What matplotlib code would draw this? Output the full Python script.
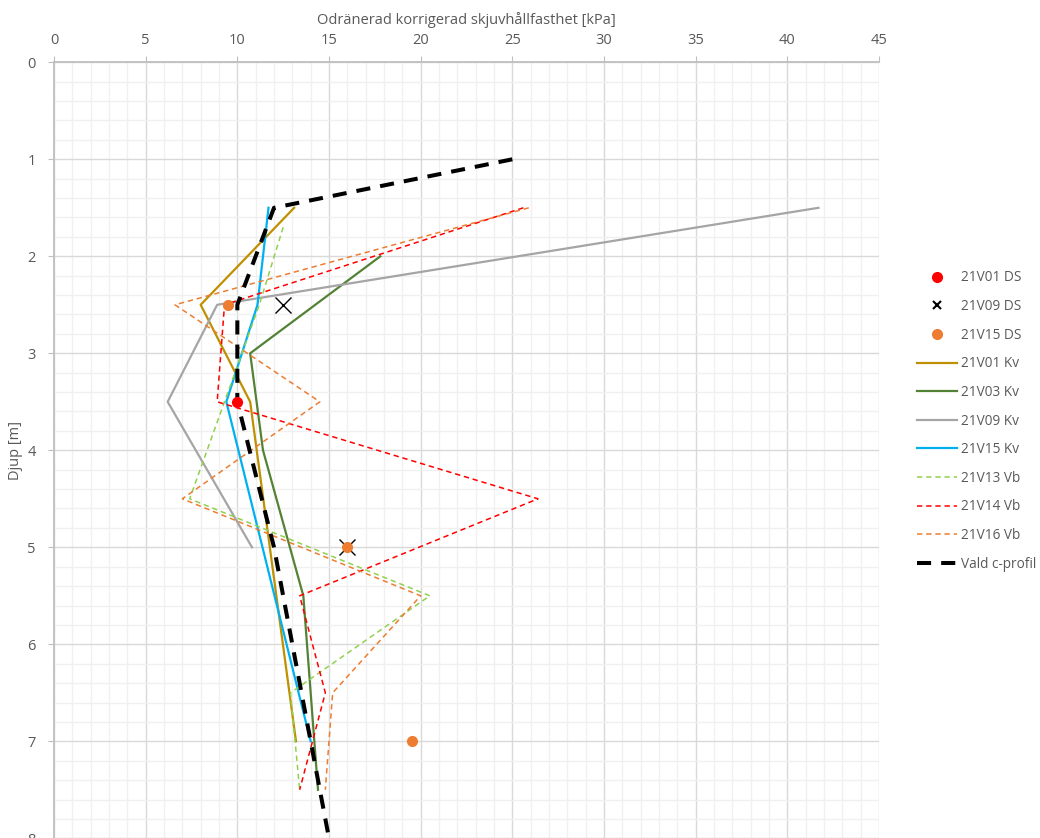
import numpy as np
import matplotlib
matplotlib.use("Agg")
import matplotlib.pyplot as plt
from matplotlib.ticker import MultipleLocator

plt.rcParams['font.family'] = ['Open Sans', 'DejaVu Sans']

# --- Punktdata (skjuvhållfasthet [kPa], djup [m]) ---
v01_ds_c = [10.0]
v01_ds_z = [3.5]
v09_ds_c = [12.5, 16.0]
v09_ds_z = [2.5, 5.0]
v15_ds_c = [9.5, 16.0, 19.5]
v15_ds_z = [2.5, 5.0, 7.0]

# --- Kv-profiler ---
v01_kv_c = [13.1, 8.0, 10.7, 13.2]
v01_kv_z = [1.5, 2.5, 3.5, 7.0]
v03_kv_c = [17.8, 10.7, 11.4, 13.6, 14.4]
v03_kv_z = [2.0, 3.0, 4.0, 5.5, 7.5]
v09_kv_c = [41.7, 8.9, 6.2, 10.8]
v09_kv_z = [1.5, 2.5, 3.5, 5.0]
v15_kv_c = [11.7, 11.4, 11.1, 9.4, 14.0]
v15_kv_z = [1.5, 2.0, 2.5, 3.5, 7.0]

# --- Vb-profiler ---
v13_vb_c = [12.5, 11.2, 7.4, 20.5, 12.9, 13.4]
v13_vb_z = [1.7, 2.5, 4.5, 5.5, 6.5, 7.5]
v14_vb_c = [25.6, 9.3, 8.9, 26.4, 13.4, 14.8, 13.4]
v14_vb_z = [1.5, 2.5, 3.5, 4.5, 5.5, 6.5, 7.5]
v16_vb_c = [25.9, 6.6, 14.5, 7.0, 20.0, 15.2, 14.8]
v16_vb_z = [1.5, 2.5, 3.5, 4.5, 5.5, 6.5, 7.5]

# --- Vald c-profil ---
vald_c = [25.0, 12.0, 10.0, 10.0, 12.0, 15.0]
vald_z = [1.0, 1.5, 2.5, 3.5, 5.0, 8.0]

fig = plt.figure(figsize=(10.4, 8.38), dpi=100)
ax = fig.add_axes([54/1040, -0.3/838, 825/1040, 776/838])

vb_dash = (0, (3.5, 2.5))
ax.plot(v01_kv_c, v01_kv_z, color='#bf9000', lw=1.6, label='21V01 Kv', zorder=3)
ax.plot(v03_kv_c, v03_kv_z, color='#548235', lw=1.6, label='21V03 Kv', zorder=3)
ax.plot(v09_kv_c, v09_kv_z, color='#a5a5a5', lw=1.6, label='21V09 Kv', zorder=3)
ax.plot(v15_kv_c, v15_kv_z, color='#00b0f0', lw=1.6, label='21V15 Kv', zorder=3)
ax.plot(v13_vb_c, v13_vb_z, color='#92d050', lw=1.1, ls=vb_dash, label='21V13 Vb', zorder=3)
ax.plot(v14_vb_c, v14_vb_z, color='#ff0000', lw=1.1, ls=vb_dash, label='21V14 Vb', zorder=3)
ax.plot(v16_vb_c, v16_vb_z, color='#ed7d31', lw=1.1, ls=vb_dash, label='21V16 Vb', zorder=3)
ax.plot(vald_c, vald_z, color='black', lw=2.9, ls=(0, (3.5, 2.5)), label='Vald c-profil', zorder=4)

ax.plot(v01_ds_c, v01_ds_z, 'o', color='#ff0000', ms=7, ls='none', label='21V01 DS', zorder=5)
ax.plot(v09_ds_c, v09_ds_z, 'x', color='black', ms=11, mew=1.0, ls='none', label='21V09 DS', zorder=5)
ax.plot(v15_ds_c, v15_ds_z, 'o', color='#ed7d31', ms=7, ls='none', label='21V15 DS', zorder=6)

ax.set_xlim(0, 45)
ax.set_ylim(8, 0)
ax.xaxis.set_major_locator(MultipleLocator(5))
ax.xaxis.set_minor_locator(MultipleLocator(1))
ax.yaxis.set_major_locator(MultipleLocator(1))
ax.yaxis.set_minor_locator(MultipleLocator(0.2))
ax.grid(which='major', color='#d9d9d9', lw=1.0)
ax.grid(which='minor', color='#f0f0f0', lw=1.0)
ax.set_axisbelow(True)

ax.xaxis.tick_top()
ax.xaxis.set_label_position('top')
for s in ['right', 'bottom']:
    ax.spines[s].set_visible(False)
for s in ['left', 'top']:
    ax.spines[s].set_color('#bfbfbf')
    ax.spines[s].set_linewidth(1.3)
ax.tick_params(which='major', length=4, color='#bfbfbf', labelcolor='#595959', labelsize=10.5)
ax.tick_params(axis='x', pad=6)
ax.tick_params(axis='y', pad=9)
ax.tick_params(which='minor', length=0)

ax.set_xlabel('Odränerad korrigerad skjuvhållfasthet [kPa]', color='#595959', fontsize=10.5, labelpad=7)
ax.set_ylabel('Djup [m]', color='#595959', fontsize=10.5, labelpad=3)

handles, labels = ax.get_legend_handles_labels()
order = ['21V01 DS', '21V09 DS', '21V15 DS', '21V01 Kv', '21V03 Kv', '21V09 Kv',
         '21V15 Kv', '21V13 Vb', '21V14 Vb', '21V16 Vb', 'Vald c-profil']
hmap = dict(zip(labels, handles))
leg = fig.legend([hmap[l] for l in order], order, loc='center left',
                 bbox_to_anchor=(907/1040, 1 - 421/838), frameon=False,
                 fontsize=9.8, labelcolor='#595959', handlelength=3.0,
                 handletextpad=0.3, labelspacing=1.0, borderpad=0.2)
for h in leg.legend_handles:
    if h.get_marker() == 'x':
        h.set_markersize(6)
        h.set_markeredgewidth(1.5)

fig.savefig('out.png', dpi=100)
